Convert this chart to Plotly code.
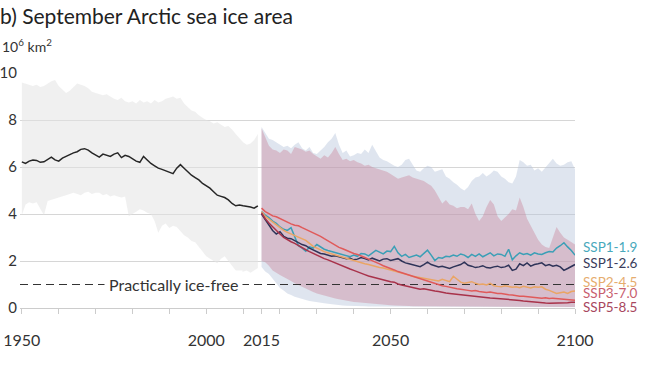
import plotly.graph_objects as go

# ---------------- data ----------------
hist_years = list(range(1950, 2015))
hist_mean = [6.22, 6.15, 6.25, 6.30, 6.28, 6.20, 6.22, 6.32, 6.42, 6.30,
             6.25, 6.38, 6.45, 6.55, 6.60, 6.65, 6.75, 6.78, 6.72, 6.60,
             6.50, 6.42, 6.55, 6.50, 6.45, 6.55, 6.60, 6.40, 6.50, 6.45,
             6.35, 6.25, 6.20, 6.45, 6.30, 6.15, 6.05, 5.95, 5.90, 5.85,
             5.78, 5.72, 5.95, 6.10, 5.95, 5.80, 5.65, 5.55, 5.45, 5.30,
             5.20, 5.10, 4.95, 4.80, 4.75, 4.70, 4.60, 4.45, 4.35, 4.38,
             4.35, 4.33, 4.30, 4.25, 4.35]
hist_upper = [9.60, 9.55, 9.50, 9.45, 9.50, 9.40, 9.45, 9.55, 9.65, 9.70,
              9.45, 9.30, 9.15, 9.25, 9.40, 9.55, 9.50, 9.45, 9.35, 9.20,
              9.15, 9.10, 9.05, 9.10, 9.00, 8.90, 8.85, 8.95, 8.80, 8.75,
              8.80, 8.70, 8.85, 8.75, 8.80, 8.70, 8.85, 8.75, 8.80, 8.90,
              8.95, 9.00, 8.90, 8.95, 8.70, 8.55, 8.40, 8.35, 8.20, 8.10,
              8.00, 7.95, 7.85, 7.90, 7.80, 7.70, 7.75, 7.60, 7.40, 7.20,
              7.05, 6.95, 7.00, 7.15, 7.40]
hist_lower = [3.95, 4.40, 4.50, 4.45, 4.50, 4.20, 3.95, 4.55, 4.60, 4.65,
              4.70, 4.75, 4.80, 4.85, 4.90, 4.85, 4.80, 4.90, 4.95, 4.85,
              4.90, 4.90, 4.80, 4.85, 4.75, 4.80, 4.75, 4.70, 4.75, 3.90,
              4.00, 4.10, 4.20, 4.15, 4.05, 4.00, 3.70, 3.20, 3.50, 3.60,
              3.40, 3.50, 3.45, 3.30, 3.10, 3.00, 2.85, 2.80, 2.60, 2.40,
              2.20, 2.10, 2.00, 1.90, 2.10, 2.20, 2.00, 1.80, 1.60, 1.50,
              1.55, 1.60, 1.50, 1.60, 1.70]

proj_years = list(range(2015, 2101))

ssp119 = [4.10, 3.95, 3.85, 3.70, 3.60, 3.45, 3.35, 3.30, 3.42, 3.05,
          2.65, 2.55, 2.42, 2.60, 2.55, 2.70, 2.58, 2.50, 2.45, 2.40,
          2.35, 2.30, 2.28, 2.22, 2.18, 2.25, 2.20, 2.32, 2.30, 2.22,
          2.35, 2.45, 2.38, 2.30, 2.42, 2.40, 2.62, 2.35, 2.20, 2.28,
          2.15, 2.20, 2.25, 2.18, 2.30, 2.46, 2.25, 2.02, 2.15, 2.12,
          2.20, 2.18, 2.25, 2.20, 2.30, 2.25, 2.15, 2.28, 2.20, 2.30,
          2.18, 2.25, 2.35, 2.22, 2.30, 2.28, 2.20, 2.50, 2.05, 2.22,
          2.35, 2.28, 2.32, 2.25, 2.35, 2.30, 2.28, 2.35, 2.40, 2.38,
          2.55, 2.65, 2.78, 2.60, 2.45, 2.25]
ssp126 = [4.00, 3.75, 3.55, 3.30, 3.15, 3.25, 3.05, 2.97, 2.95, 2.85,
          2.78, 2.70, 2.65, 2.55, 2.48, 2.40, 2.32, 2.30, 2.25, 2.20,
          2.22, 2.18, 2.15, 2.10, 2.12, 2.05, 2.08, 2.15, 2.10, 2.05,
          2.12, 2.05, 2.00, 2.08, 2.10, 2.02, 2.05, 2.10, 2.00, 1.92,
          1.88, 1.85, 1.80, 1.76, 1.85, 1.95, 1.85, 1.80, 1.75, 1.78,
          1.72, 1.68, 1.75, 1.80, 1.85, 1.95, 1.82, 1.78, 1.72, 1.75,
          1.80, 1.72, 1.70, 1.75, 1.78, 1.72, 1.75, 1.82, 1.60, 1.65,
          1.88, 1.80, 1.92, 1.78, 1.85, 1.88, 1.92, 1.80, 1.85, 1.78,
          1.82, 1.75, 1.60, 1.68, 1.75, 1.85]
ssp245 = [4.10, 3.90, 3.78, 3.65, 3.55, 3.40, 3.30, 3.22, 3.15, 3.08,
          3.00, 2.95, 2.88, 2.75, 2.62, 2.55, 2.46, 2.40, 2.35, 2.30,
          2.28, 2.22, 2.18, 2.10, 2.08, 2.02, 1.98, 1.92, 1.88, 1.85,
          1.80, 1.75, 1.72, 1.70, 1.66, 1.62, 1.58, 1.55, 1.50, 1.45,
          1.40, 1.35, 1.32, 1.28, 1.25, 1.22, 1.20, 1.18, 1.15, 1.22,
          1.18, 1.12, 1.35, 1.22, 1.10, 1.05, 1.08, 1.12, 1.05, 1.00,
          1.02, 0.98, 1.05, 0.95, 0.92, 0.90, 0.95, 0.92, 0.88, 0.90,
          0.86, 0.92, 0.88, 0.85, 0.90, 0.88, 0.90, 0.80, 0.75, 0.70,
          0.62, 0.65, 0.68, 0.62, 0.70, 0.72]
ssp370 = [4.25, 4.10, 4.02, 3.92, 3.88, 3.80, 3.72, 3.65, 3.58, 3.52,
          3.50, 3.42, 3.35, 3.25, 3.18, 3.12, 3.05, 2.95, 2.85, 2.75,
          2.65, 2.58, 2.52, 2.45, 2.38, 2.32, 2.28, 2.20, 2.15, 2.08,
          2.02, 1.95, 1.88, 1.80, 1.75, 1.70, 1.62, 1.55, 1.50, 1.45,
          1.40, 1.35, 1.30, 1.25, 1.20, 1.15, 1.08, 1.02, 0.98, 0.95,
          0.92, 0.88, 0.85, 0.82, 0.80, 0.76, 0.75, 0.72, 0.74, 0.70,
          0.68, 0.66, 0.68, 0.64, 0.62, 0.62, 0.58, 0.56, 0.55, 0.52,
          0.50, 0.50, 0.48, 0.46, 0.45, 0.44, 0.42, 0.44, 0.40, 0.42,
          0.40, 0.38, 0.36, 0.35, 0.34, 0.33]
ssp585 = [4.05, 3.80, 3.62, 3.45, 3.30, 3.15, 3.00, 2.90, 2.82, 2.75,
          2.65, 2.55, 2.48, 2.40, 2.32, 2.25, 2.18, 2.10, 2.05, 1.98,
          1.92, 1.85, 1.80, 1.72, 1.66, 1.60, 1.55, 1.48, 1.42, 1.36,
          1.32, 1.28, 1.22, 1.18, 1.15, 1.12, 1.10, 1.02, 0.98, 0.95,
          0.90, 0.86, 0.84, 0.80, 0.82, 0.78, 0.76, 0.72, 0.70, 0.66,
          0.64, 0.62, 0.60, 0.58, 0.56, 0.55, 0.52, 0.50, 0.48, 0.47,
          0.46, 0.44, 0.43, 0.42, 0.41, 0.40, 0.38, 0.36, 0.35, 0.33,
          0.32, 0.30, 0.28, 0.26, 0.25, 0.24, 0.22, 0.21, 0.20, 0.20,
          0.21, 0.19, 0.20, 0.22, 0.24, 0.25]

# 5-95% ranges (SSP1-2.6 blue, SSP3-7.0 red)
band126_upper = [7.70, 7.45, 7.20, 7.15, 7.05, 6.95, 6.85, 6.90, 6.80, 6.95,
                 7.05, 6.80, 6.70, 6.85, 6.60, 6.55, 6.70, 6.85, 7.05, 7.20,
                 7.45, 6.95, 6.60, 6.70, 6.45, 6.50, 6.60, 6.55, 6.75, 6.60,
                 6.95, 6.70, 6.40, 6.30, 6.25, 6.15, 6.05, 6.00, 6.10, 6.30,
                 6.35, 6.10, 5.85, 5.80, 5.95, 6.05, 6.00, 5.80, 5.85, 5.90,
                 5.60, 5.50, 5.35, 5.25, 5.10, 5.00, 5.15, 5.40, 5.55, 5.60,
                 5.75, 5.60, 5.70, 5.85, 5.80, 5.60, 5.50, 5.35, 5.30, 5.60,
                 6.30, 6.20, 6.05, 6.10, 5.85, 5.95, 5.80, 6.00, 6.20, 6.35,
                 6.15, 6.05, 6.10, 6.20, 6.25, 5.90]
band126_lower = [1.75, 1.55, 1.45, 1.25, 1.05, 0.85, 0.75, 0.62, 0.55, 0.48,
                 0.42, 0.38, 0.34, 0.30, 0.28, 0.25, 0.22, 0.20, 0.18, 0.16,
                 0.14, 0.12, 0.11, 0.10, 0.09, 0.08, 0.08, 0.07, 0.07, 0.06,
                 0.06, 0.06, 0.05, 0.05, 0.05, 0.05, 0.04, 0.04, 0.04, 0.04,
                 0.04, 0.04, 0.03, 0.03, 0.03, 0.03, 0.03, 0.03, 0.03, 0.03,
                 0.03, 0.03, 0.03, 0.03, 0.03, 0.03, 0.03, 0.03, 0.03, 0.03,
                 0.03, 0.03, 0.03, 0.03, 0.03, 0.03, 0.03, 0.03, 0.03, 0.03,
                 0.03, 0.03, 0.03, 0.03, 0.03, 0.03, 0.03, 0.03, 0.03, 0.03,
                 0.03, 0.03, 0.03, 0.03, 0.03, 0.03]
band370_upper = [7.65, 7.30, 6.90, 6.75, 6.70, 6.60, 6.75, 6.70, 6.55, 6.85,
                 6.80, 6.75, 6.65, 6.70, 6.55, 6.45, 6.35, 6.50, 6.40, 6.60,
                 6.85, 6.55, 6.30, 6.35, 6.25, 6.30, 6.20, 6.15, 6.05, 6.10,
                 6.00, 5.95, 5.90, 5.85, 5.80, 5.70, 5.60, 5.50, 5.55, 5.60,
                 5.65, 5.55, 5.50, 5.45, 5.40, 5.30, 5.20, 5.00, 4.70, 4.45,
                 4.60, 4.40, 4.35, 4.25, 4.30, 4.30, 4.20, 4.45, 4.00, 3.70,
                 3.90, 4.30, 4.60, 4.40, 3.90, 3.70, 3.85, 4.00, 4.20, 4.15,
                 4.70, 4.30, 3.80, 3.50, 3.20, 2.90, 2.70, 2.60, 2.55, 3.00,
                 3.45, 3.20, 3.00, 2.90, 2.80, 2.70]
band370_lower = [2.00, 1.95, 1.80, 1.60, 1.50, 1.40, 1.32, 1.25, 1.15, 1.05,
                 0.98, 0.90, 0.82, 0.75, 0.68, 0.62, 0.58, 0.52, 0.48, 0.44,
                 0.40, 0.37, 0.34, 0.31, 0.28, 0.26, 0.24, 0.22, 0.20, 0.18,
                 0.17, 0.16, 0.15, 0.14, 0.13, 0.12, 0.11, 0.10, 0.09, 0.08,
                 0.08, 0.07, 0.07, 0.06, 0.06, 0.05, 0.05, 0.05, 0.05, 0.04,
                 0.04, 0.04, 0.04, 0.04, 0.04, 0.04, 0.04, 0.04, 0.04, 0.04,
                 0.04, 0.04, 0.04, 0.04, 0.04, 0.04, 0.04, 0.04, 0.04, 0.04,
                 0.04, 0.04, 0.04, 0.04, 0.04, 0.04, 0.04, 0.04, 0.04, 0.04,
                 0.04, 0.04, 0.04, 0.04, 0.04, 0.04]

ice_free_level = 1.0
ice_free_label = "Practically ice-free"
ice_free_label_year = 1991

scenario_names = ["SSP1-1.9", "SSP1-2.6", "SSP2-4.5", "SSP3-7.0", "SSP5-8.5"]
scenario_values = [ssp119, ssp126, ssp245, ssp370, ssp585]
line_colors = ["#3a9fb6", "#2e3358", "#eaa564", "#e05a5a", "#a8324a"]
label_colors = ["#48a9bc", "#3a3d5c", "#e6ad6e", "#c8606f", "#a8475e"]
label_y = [2.6, 1.9, 1.12, 0.64, 0.04]

x_tickvals = [1950, 1960, 1970, 1980, 1990, 2000, 2010, 2015, 2020, 2030,
              2040, 2050, 2060, 2070, 2080, 2090, 2100]
x_labeled = [1950, 2000, 2015, 2050, 2100]
y_tickvals = [0, 2, 4, 6, 8, 10]

title_text = "b) September Arctic sea ice area"
unit_text = "10<sup>6</sup> km<sup>2</sup>"

FONT = "Lato, 'Open Sans', sans-serif"

# ---------------- figure ----------------
fig = go.Figure()


def band(xs, lo, hi, color):
    fig.add_trace(go.Scatter(
        x=xs + xs[::-1], y=hi + lo[::-1], fill="toself", fillcolor=color,
        line=dict(width=0), mode="lines", hoverinfo="skip", showlegend=False))


band(hist_years, hist_lower, hist_upper, "rgba(228,228,228,0.55)")
band(proj_years, band126_lower, band126_upper, "rgba(185,198,220,0.45)")
band(proj_years, band370_lower, band370_upper, "rgba(200,120,142,0.36)")

# practically ice-free threshold
fig.add_trace(go.Scatter(
    x=[hist_years[0] - 0.5, proj_years[-1]], y=[ice_free_level, ice_free_level],
    mode="lines", line=dict(color="#333333", width=1.2, dash="8px,5px"),
    hoverinfo="skip", showlegend=False))

fig.add_trace(go.Scatter(x=hist_years, y=hist_mean, mode="lines",
                         line=dict(color="#262626", width=1.5),
                         showlegend=False))

for name, vals, col in zip(scenario_names, scenario_values, line_colors):
    fig.add_trace(go.Scatter(x=proj_years, y=vals, mode="lines", name=name,
                             line=dict(color=col, width=1.5),
                             showlegend=False))

annotations = []
for name, yv, col in zip(scenario_names, label_y, label_colors):
    annotations.append(dict(
        text=name, xref="paper", yref="y", x=1.011, y=yv, xanchor="left",
        yanchor="middle", showarrow=False,
        font=dict(family=FONT, size=13.5, color=col)))

annotations.append(dict(
    text=ice_free_label, xref="x", yref="y", x=ice_free_label_year,
    y=ice_free_level, showarrow=False, bgcolor="white", borderpad=4,
    font=dict(family=FONT, size=16, color="#333333")))

annotations.append(dict(
    text=unit_text, xref="paper", yref="paper", x=-0.036, y=1.119,
    xanchor="left", yanchor="middle", showarrow=False,
    font=dict(family=FONT, size=14, color="#333333")))

fig.update_layout(
    width=659, height=371,
    margin=dict(l=20, r=84, t=73, b=63),
    paper_bgcolor="white", plot_bgcolor="white",
    font=dict(family=FONT, color="#333333"),
    title=dict(text=title_text, xref="container", yref="container",
               x=0, y=0.954, xanchor="left", yanchor="middle",
               font=dict(family=FONT, size=21, color="#222222")),
    annotations=annotations,
    xaxis=dict(
        range=[1949.5, 2100], tickmode="array", tickvals=x_tickvals,
        ticktext=[str(v) if v in x_labeled else "" for v in x_tickvals],
        showgrid=False, zeroline=False, showline=True, linecolor="#cccccc",
        linewidth=1, ticks="outside", ticklen=5, tickcolor="#cccccc",
        automargin=False, ticklabelstandoff=13,
        tickfont=dict(family=FONT, size=16, color="#333333")),
    yaxis=dict(
        range=[0, 10], tickmode="array", tickvals=y_tickvals,
        showgrid=True, gridcolor="#d6d6d6", gridwidth=1, zeroline=False,
        showline=False, ticks="", ticklabelstandoff=2, automargin=False,
        tickfont=dict(family=FONT, size=15, color="#333333")),
)

fig.write_html("out.html", config={"displayModeBar": False},
               post_script="document.body.style.margin='0px';")
